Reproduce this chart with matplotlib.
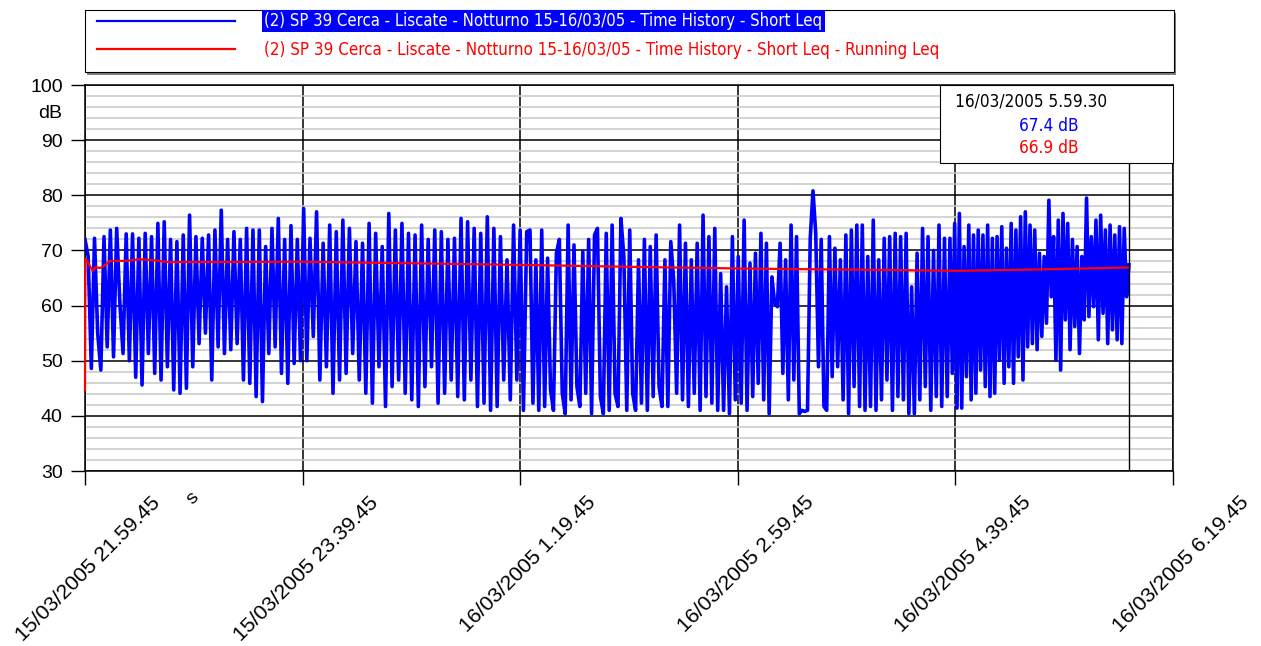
import matplotlib
matplotlib.use("Agg")
import matplotlib.pyplot as plt
from matplotlib import font_manager
from matplotlib.patches import Rectangle
from matplotlib.lines import Line2D
from matplotlib.transforms import ScaledTranslation
from matplotlib.ticker import MultipleLocator
import numpy as np

# asse x in minuti dall'inizio misura (15/03/2005 21.59.45)
x_ticks_min = [0, 100, 200, 300, 400, 500]
x_tick_labels = ["15/03/2005 21.59.45", "15/03/2005 23.39.45", "16/03/2005 1.19.45",
                 "16/03/2005 2.59.45", "16/03/2005 4.39.45", "16/03/2005 6.19.45"]

legend_short = "(2) SP 39 Cerca - Liscate - Notturno 15-16/03/05 - Time History - Short Leq"
legend_running = "(2) SP 39 Cerca - Liscate - Notturno 15-16/03/05 - Time History - Short Leq - Running Leq"

# Short Leq [dB], letto a tratti dal grafico
seg_edges_min = [0, 103.4, 204.5, 305.6, 397.5, 479.75]
seg1 = [72.0, 68.9, 48.6, 72.2, 55.0, 48.3, 72.5, 52.5, 73.7, 50.7, 74.0, 60.5, 51.3, 73.0, 50.0,
        73.0, 47.0, 72.2, 45.6, 73.1, 51.3, 72.5, 47.7, 74.9, 46.5, 75.2, 48.9, 72.0, 44.7, 71.6,
        44.1, 72.8, 45.0, 76.4, 48.9, 72.5, 53.1, 72.2, 55.0, 72.8, 46.5, 73.7, 52.5, 77.3, 51.3,
        72.0, 52.0, 73.4, 53.1, 72.0, 46.5, 74.0, 45.9, 73.7, 43.5, 73.7, 42.6, 70.7, 51.3, 74.0,
        52.5, 75.8, 47.7, 72.0, 45.9, 74.5, 49.5, 72.0, 50.0, 77.6, 50.0]
seg2 = [72.2, 54.4, 77.0, 46.5, 71.3, 48.9, 74.6, 44.1, 73.4, 46.5, 75.5, 47.7, 74.0, 51.3, 71.6,
        46.5, 71.3, 44.1, 74.9, 42.3, 73.1, 48.9, 70.7, 41.7, 76.7, 45.3, 73.7, 46.5, 74.9, 44.1,
        73.1, 42.9, 72.8, 41.7, 74.6, 45.3, 72.0, 48.9, 73.7, 42.3, 73.4, 44.1, 72.0, 46.5, 72.2,
        43.5, 75.8, 42.9, 75.2, 46.5, 74.0, 41.7, 73.1, 42.3, 76.1, 41.0, 74.0, 41.7, 72.5, 46.5,
        68.3, 42.9, 74.6, 46.5, 73.7, 41.0, 73.4]
seg3 = [73.7, 42.3, 68.3, 41.0, 73.7, 41.7, 68.6, 44.7, 41.0, 69.5, 72.0, 44.1, 40.4, 74.6, 42.9,
        71.0, 45.3, 41.7, 69.8, 44.1, 72.0, 40.4, 72.8, 74.0, 43.5, 40.4, 73.1, 41.0, 74.6, 44.1,
        41.7, 75.8, 68.9, 41.0, 73.7, 44.1, 41.0, 68.3, 42.3, 72.0, 41.0, 70.7, 43.5, 72.8, 45.3,
        41.7, 68.3, 41.7, 71.6, 64.6, 44.1, 74.6, 42.9, 71.3, 41.7, 68.3, 44.1, 71.3, 41.0, 76.4,
        43.5, 72.5, 42.3, 74.0, 41.0, 65.8, 41.0, 63.4, 40.4, 72.5, 42.9, 68.9, 42.3, 75.5, 41.0]
seg4 = [67.7, 43.5, 69.5, 45.9, 73.1, 42.9, 71.3, 40.4, 65.2, 60.4, 59.8, 71.3, 47.7, 68.3, 42.9,
        74.6, 46.5, 72.5, 40.4, 41.0, 40.8, 41.0, 72.2, 80.8, 73.1, 48.9, 72.0, 41.7, 41.0, 72.5,
        47.1, 70.4, 48.9, 68.3, 42.9, 72.8, 40.4, 73.7, 45.3, 74.6, 41.7, 74.6, 41.0, 68.9, 41.7,
        75.5, 41.0, 68.3, 42.9, 72.2, 46.5, 72.5, 41.0, 73.1, 43.5, 72.5, 42.9, 73.1, 40.4, 63.4,
        40.4, 69.5, 42.9, 74.0, 45.3, 72.5, 41.0, 70.0, 43.5, 74.6, 41.7, 72.2, 43.5]
seg5 = [72.2, 47.7, 74.9, 41.4, 76.7, 41.4, 70.7, 47.1, 74.6, 42.9, 72.8, 44.1, 73.7, 48.3, 72.8,
        45.3, 74.6, 43.5, 72.2, 44.1, 72.5, 50.1, 74.3, 45.9, 70.4, 48.9, 74.9, 45.9, 73.7, 50.7,
        76.1, 46.5, 77.0, 52.5, 74.6, 53.1, 73.7, 52.0, 69.5, 54.4, 68.9, 56.8, 79.1, 61.6, 72.5,
        50.1, 75.5, 48.3, 76.7, 57.4, 74.9, 52.0, 72.0, 56.2, 70.7, 51.3, 68.9, 57.4, 79.5, 58.0,
        72.5, 59.8, 75.5, 53.8, 76.4, 58.6, 73.7, 53.1, 74.6, 55.6, 72.8, 53.8, 74.3, 53.1, 74.0,
        61.6, 67.4]
segs = [seg1, seg2, seg3, seg4, seg5]

# Running Leq [dB]
run_t = [0, 0.2, 1.4, 3.5, 5.0, 6.9, 8.7, 11.5, 18.4, 25.3, 32.2, 37.7, 52.9, 98.8, 144.8,
         204.5, 255.0, 305.6, 356.0, 402.0, 443.5, 479.75]
run_v = [44.7, 68.5, 67.8, 66.3, 67.0, 66.8, 67.2, 68.1, 68.1, 68.4, 68.2, 67.9, 67.9, 67.95, 67.7,
         67.35, 67.0, 66.7, 66.5, 66.3, 66.6, 66.9]

cursor_min = 479.75
cursor_time = "16/03/2005 5.59.30"
cursor_short = 67.4
cursor_running = 66.9

# tempi dei campioni
blue_t = []
for i, s in enumerate(segs):
    last = i == len(segs) - 1
    blue_t += list(np.linspace(seg_edges_min[i], seg_edges_min[i + 1], len(s), endpoint=last))
blue_v = sum(segs, [])

plt.rcParams['font.family'] = ['Liberation Sans', 'DejaVu Sans']

# font stretto per legenda e cursore, se presente
narrow = None
for f in font_manager.fontManager.ttflist:
    if ('Narrow' in f.name or 'Condensed' in f.name or f.stretch in ('condensed', 'semi-condensed')) \
            and f.style == 'normal' and 'Bold' not in f.fname and 'Mono' not in f.fname \
            and 'Serif' not in f.fname:
        narrow = f.fname
        break


def nfont():
    if narrow:
        return font_manager.FontProperties(fname=narrow)
    return font_manager.FontProperties(family='Liberation Sans')


W, H = 1261, 646
fig = plt.figure(figsize=(W / 100, H / 100), dpi=100)


def fx(px):
    return px / W


def fy(py):
    return 1 - py / H


def fit(t, target_px):
    # adatta la dimensione del testo alla larghezza del riferimento
    r = fig.canvas.get_renderer()
    for _ in range(3):
        w = t.get_window_extent(r).width
        t.set_fontsize(t.get_fontsize() * target_px / w)


ax = fig.add_axes([fx(85), fy(471), fx(1173 - 85), (471 - 85) / H])
ax.set_xlim(0, 500)
ax.set_ylim(30, 100)

ax.plot(blue_t, blue_v, color='#0000ff', lw=2.6, zorder=3)
ax.plot(run_t, run_v, color='#ff0000', lw=1.6, zorder=4, clip_on=False)
ax.axvline(cursor_min, color='black', lw=1.0, zorder=5)

ax.set_xticks(x_ticks_min)
ax.set_xticklabels([])
ax.set_yticks(range(30, 101, 10))
ax.yaxis.set_minor_locator(MultipleLocator(2))
ax.tick_params(axis='y', which='minor', length=0)
ax.tick_params(axis='both', which='major', direction='out', length=10, width=1.0,
               labelsize=14, pad=6)
ax.grid(which='major', axis='both', color='black', lw=1.1)
ax.grid(which='minor', axis='y', color='#c8c8c8', lw=1.1)
ax.set_axisbelow(True)
for sp in ax.spines.values():
    sp.set_linewidth(1.1)

# etichette asse x ruotate
off = ScaledTranslation(0.66, -0.22, fig.dpi_scale_trans)
for t, lab in zip(x_ticks_min, x_tick_labels):
    ax.text(t, 0, lab, transform=ax.get_xaxis_transform() + off, rotation=45,
            rotation_mode='anchor', ha='right', va='top', fontsize=15.3)

fig.text(fx(62), fy(113), "dB", ha='right', va='center', fontsize=14)
fig.text(fx(193), fy(498), "s", ha='center', va='center', fontsize=14, rotation=45)

# legenda
fig.patches.append(Rectangle((fx(87), fy(75)), fx(1174 - 85), (72 - 10) / H,
                             transform=fig.transFigure, facecolor='#808080', edgecolor='none'))
fig.patches.append(Rectangle((fx(85), fy(72)), fx(1174 - 85), (72 - 10) / H,
                             transform=fig.transFigure, facecolor='white', edgecolor='black', lw=0.8))
fig.lines.append(Line2D([fx(97), fx(235)], [fy(21), fy(21)], transform=fig.transFigure,
                        color='#0000ff', lw=1.6))
fig.lines.append(Line2D([fx(97), fx(235)], [fy(49), fy(49)], transform=fig.transFigure,
                        color='#ff0000', lw=1.6))
t1 = fig.text(fx(264), fy(21), legend_short, fontproperties=nfont(), fontsize=13, color='white',
              ha='left', va='center',
              bbox=dict(facecolor='#0000ff', edgecolor='none', boxstyle='square,pad=0.15'))
t2 = fig.text(fx(264), fy(50), legend_running, fontproperties=nfont(), fontsize=13,
              color='#ff0000', ha='left', va='center')

# riquadro cursore
fig.patches.append(Rectangle((fx(940), fy(163)), fx(1173 - 940), (163 - 85) / H,
                             transform=fig.transFigure, facecolor='white', edgecolor='black',
                             lw=0.8, zorder=6))
t3 = fig.text(fx(1031), fy(101), cursor_time, fontproperties=nfont(), fontsize=13,
              ha='center', va='center', zorder=7)
t4 = fig.text(fx(1049), fy(126), "%.1f dB" % cursor_short, fontproperties=nfont(), fontsize=13,
              color='#0000ff', ha='center', va='center', zorder=7)
t5 = fig.text(fx(1049), fy(148), "%.1f dB" % cursor_running, fontproperties=nfont(), fontsize=13,
              color='#ff0000', ha='center', va='center', zorder=7)

fit(t1, 822 - 264)
fit(t2, 936 - 264)
fit(t3, 152)
for t in (t4, t5):
    t.set_fontsize(t3.get_fontsize())

fig.savefig("out.png", dpi=100)
